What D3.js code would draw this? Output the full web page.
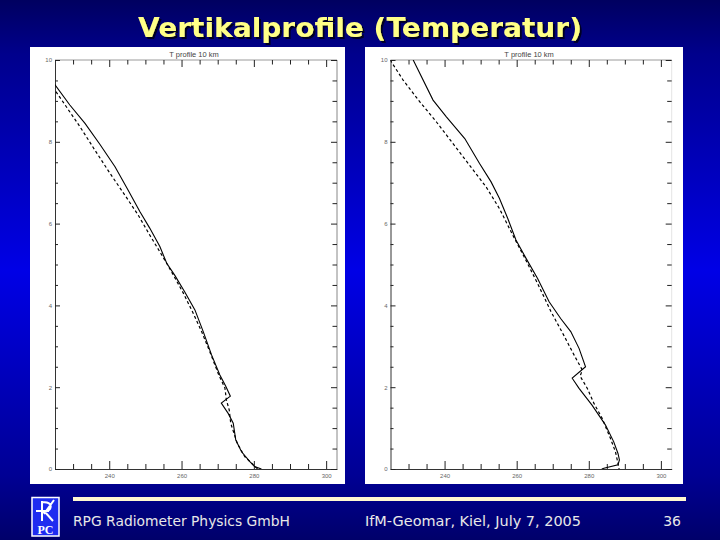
<!DOCTYPE html>
<html>
<head>
<meta charset="utf-8">
<script src="https://cdn.jsdelivr.net/npm/d3@7"></script>
<style>
  html, body { margin: 0; padding: 0; background: #000080; }
  svg { display: block; }
</style>
</head>
<body>
<div id="slide"></div>
<script>
// temperature [K] vs height [km]
const leftSolid = [[219.9,10],[225,9.39],[229.1,8.90],[233.3,8.45],[237.4,7.94],[241.6,7.39],[245.2,6.82],[248.5,6.29],[251.2,5.89],[254.0,5.44],[255.9,5.03],[258.1,4.74],[260.9,4.33],[263.7,3.89],[266.0,3.36],[268.3,2.79],[270.6,2.30],[272.2,2.03],[273.5,1.78],[271.0,1.61],[272.9,1.36],[274.3,1.12],[275.0,0.71],[276.6,0.42],[278.9,0.18],[280.2,0.06],[282.1,0]];
const leftDashed = [[219.2,10],[225.3,9.22],[227.8,8.90],[231.9,8.37],[236.0,7.80],[240.2,7.23],[244.3,6.70],[248.0,6.21],[251.2,5.72],[254.0,5.31],[255.9,5.03],[258.0,4.70],[260.5,4.30],[263.0,3.85],[265.6,3.35],[267.9,2.85],[270.3,2.30],[272.0,1.98],[272.4,1.69],[273.2,1.44],[273.6,1.12],[275.4,0.63],[277.5,0.30],[279.4,0.14],[280.8,0.02],[281.5,0]];
const rightSolid = [[231.3,10],[236.8,9.02],[240.5,8.61],[245.6,8.08],[249.7,7.47],[252.9,7.02],[255.2,6.62],[257.5,6.13],[259.8,5.60],[262.6,5.15],[265.8,4.66],[269.0,4.09],[272.2,3.68],[275.0,3.36],[277.3,2.95],[279.1,2.50],[275.4,2.22],[277.3,1.97],[280.9,1.56],[284.6,1.08],[286.9,0.67],[288.1,0.38],[288.5,0.22],[288.1,0.10],[284.2,0.02],[283.6,0]];
const rightDashed = [[224.9,10],[228.5,9.51],[233.1,8.98],[237.7,8.49],[242.3,7.96],[246.9,7.43],[251.5,6.90],[255.2,6.37],[258.9,5.72],[262.3,5.15],[266.0,4.50],[269.5,3.85],[273.0,3.28],[275.9,2.79],[278.2,2.42],[277.6,2.27],[279.6,1.97],[281.4,1.61],[283.7,1.24],[286.0,0.75],[287.4,0.42],[288.1,0.14],[288.4,0]];

const tempDomain = [225, 303];
const heightDomain = [0, 10];
const tempMajor = [240, 260, 280, 300];
const tempMinor = [230, 235, 245, 250, 255, 265, 270, 275, 285, 290, 295];
const heightMajor = [0, 2, 4, 6, 8, 10];
const heightMinor = [0.5, 1, 1.5, 2.5, 3, 3.5, 4.5, 5, 5.5, 6.5, 7, 7.5, 8.5, 9, 9.5];

const panelTitle = 'T profile 10 km';
const slideTitle = 'Vertikalprofile (Temperatur)';
const footerLeft = 'RPG Radiometer Physics GmbH';
const footerMid = 'IfM-Geomar, Kiel, July 7, 2005';
const pageNo = '36';

const W = 720, H = 540;

let svg = d3.select('#slide')
  .append('svg')
  .attr('width', W)
  .attr('height', H);

//background gradient
const defs = svg.append('defs');
const bg = defs.append('linearGradient')
  .attr('id', 'bg').attr('x1', 0).attr('y1', 0).attr('x2', 0).attr('y2', 1);
[['0%', '#000060'], ['10%', '#00008c'], ['50%', '#0000e6'], ['88%', '#000094'], ['100%', '#00006a']]
  .forEach(s => bg.append('stop').attr('offset', s[0]).attr('stop-color', s[1]));

//title shadow as a filter, so the title is one text
const shadow = defs.append('filter').attr('id', 'shadow')
  .attr('x', '-5%').attr('y', '-20%').attr('width', '110%').attr('height', '140%');
shadow.append('feDropShadow')
  .attr('dx', 2).attr('dy', 2).attr('stdDeviation', 0.4)
  .attr('flood-color', '#000022').attr('flood-opacity', 1);

svg.append('rect').attr('width', W).attr('height', H).attr('fill', 'url(#bg)');

svg.append('text')
  .attr('x', 360)
  .attr('y', 37)
  .attr('text-anchor', 'middle')
  .attr('font-family', 'DejaVu Sans, Verdana, sans-serif')
  .attr('font-weight', 'bold')
  .attr('font-size', '26px')
  .attr('textLength', 444)
  .attr('lengthAdjust', 'spacingAndGlyphs')
  .attr('fill', '#ffff88')
  .attr('filter', 'url(#shadow)')
  .text(slideTitle);

function drawPanel(box, plot, solid, dashed, id, rightLine) {
  let g = svg.append('g');

  g.append('rect')
    .attr('x', box.x).attr('y', box.y)
    .attr('width', box.w).attr('height', box.h)
    .attr('fill', '#ffffff');

  //scales
  let x = d3.scaleLinear().domain(tempDomain).range([plot.x0, plot.x1]);
  let y = d3.scaleLinear().domain(heightDomain).range([plot.y1, plot.y0]);

  //frame
  g.append('line').attr('x1', plot.x0).attr('x2', plot.x1).attr('y1', plot.y0).attr('y2', plot.y0)
    .attr('stroke', '#9a9a9a').attr('stroke-width', 1);
  g.append('line').attr('x1', plot.x1).attr('x2', plot.x1).attr('y1', plot.y0).attr('y2', plot.y1)
    .attr('stroke', rightLine).attr('stroke-width', 1);

  //x axis, bottom
  const xMajor = d3.axisBottom(x).tickValues(tempMajor).tickSizeInner(-8).tickSizeOuter(0).tickPadding(5)
    .tickFormat(d3.format('d'));
  const xMin = d3.axisBottom(x).tickValues(tempMinor).tickSizeInner(-5).tickSizeOuter(0).tickFormat('');
  g.append('g').attr('class', 'x axis').attr('transform', `translate(0, ${plot.y1})`).call(xMajor);
  g.append('g').attr('class', 'x axis minor').attr('transform', `translate(0, ${plot.y1})`).call(xMin);

  //x axis, top (ticks only)
  const xTop = d3.axisTop(x).tickValues(tempMajor).tickSizeInner(-7).tickSizeOuter(0).tickFormat('');
  const xTopMin = d3.axisTop(x).tickValues(tempMinor).tickSizeInner(-4.5).tickSizeOuter(0).tickFormat('');
  g.append('g').attr('class', 'x axis minor').attr('transform', `translate(0, ${plot.y0})`).call(xTop);
  g.append('g').attr('class', 'x axis minor').attr('transform', `translate(0, ${plot.y0})`).call(xTopMin);

  //y axis, left
  const yMajor = d3.axisLeft(y).tickValues(heightMajor).tickSizeInner(-5).tickSizeOuter(0).tickPadding(3)
    .tickFormat(d3.format('d'));
  const yMin = d3.axisLeft(y).tickValues(heightMinor).tickSizeInner(-3).tickSizeOuter(0).tickFormat('');
  g.append('g').attr('class', 'y axis').attr('transform', `translate(${plot.x0}, 0)`).call(yMajor);
  g.append('g').attr('class', 'y axis minor').attr('transform', `translate(${plot.x0}, 0)`).call(yMin);

  //y axis, right (ticks only)
  const yRight = d3.axisRight(y).tickValues(heightMajor).tickSizeInner(-6).tickSizeOuter(0).tickFormat('');
  const yRightMin = d3.axisRight(y).tickValues(heightMinor).tickSizeInner(-4.5).tickSizeOuter(0).tickFormat('');
  g.append('g').attr('class', 'y axis minor').attr('transform', `translate(${plot.x1}, 0)`).call(yRight);
  g.append('g').attr('class', 'y axis minor').attr('transform', `translate(${plot.x1}, 0)`).call(yRightMin);

  g.selectAll('.axis path.domain').attr('stroke', '#333').attr('stroke-width', 1);
  g.selectAll('.axis.minor path.domain').remove();
  g.selectAll('.axis line').attr('stroke', '#222').attr('stroke-width', 1);
  g.selectAll('.axis text')
    .attr('font-family', 'Liberation Sans, Arial, sans-serif')
    .attr('font-size', '6px')
    .attr('fill', '#666');

  //panel title
  g.append('text')
    .attr('x', (plot.x0 + plot.x1) / 2 - 2)
    .attr('y', 57)
    .attr('text-anchor', 'middle')
    .attr('font-family', 'Liberation Sans, Arial, sans-serif')
    .attr('font-size', '7.5px')
    .attr('fill', '#444')
    .text(panelTitle);

  //clip for the profiles
  defs.append('clipPath').attr('id', id)
    .append('rect')
    .attr('x', plot.x0).attr('y', plot.y0)
    .attr('width', plot.x1 - plot.x0).attr('height', plot.y1 - plot.y0);

  const line = d3.line().x(d => x(d[0])).y(d => y(d[1]));

  g.append('path')
    .datum(dashed)
    .attr('clip-path', `url(#${id})`)
    .attr('d', line)
    .attr('fill', 'none')
    .attr('stroke', '#000')
    .attr('stroke-width', 1.2)
    .attr('stroke-dasharray', '3,2.5');

  g.append('path')
    .datum(solid)
    .attr('clip-path', `url(#${id})`)
    .attr('d', line)
    .attr('fill', 'none')
    .attr('stroke', '#000')
    .attr('stroke-width', 1.1);
}

drawPanel({ x: 30, y: 47, w: 315, h: 437 }, { x0: 55, x1: 337, y0: 60, y1: 469 }, leftSolid, leftDashed, 'clipL', '#888');
drawPanel({ x: 365, y: 47, w: 318, h: 437 }, { x0: 390.5, x1: 671.7, y0: 60, y1: 469 }, rightSolid, rightDashed, 'clipR', '#e4e4e4');

//footer rule
svg.append('rect')
  .attr('x', 73).attr('y', 497)
  .attr('width', 613).attr('height', 4)
  .attr('fill', '#fff8d0');

//logo
let logo = svg.append('g');
logo.append('rect')
  .attr('x', 32).attr('y', 497.5).attr('width', 27).attr('height', 38.5)
  .attr('fill', '#1f2cf0').attr('stroke', '#ffffff').attr('stroke-width', 1.5);
logo.append('path')
  .attr('d', 'M42,501 L42,521 M42,502 C50,502 52,505 50,509 C48,512 44,512 42,512 M45,512 L53,521 M36,511 L49,511 M54,500 L44,514')
  .attr('fill', 'none').attr('stroke', '#ffffff').attr('stroke-width', 2);
logo.append('text')
  .attr('x', 45.5).attr('y', 533.5)
  .attr('text-anchor', 'middle')
  .attr('font-family', 'Liberation Serif, serif')
  .attr('font-weight', 'bold')
  .attr('font-size', '12px')
  .attr('fill', '#ffffff')
  .text('PC');

//footer text
const footFont = 'DejaVu Sans, Verdana, sans-serif';
svg.append('text').attr('x', 73).attr('y', 526)
  .attr('font-family', footFont).attr('font-size', '14px').attr('fill', '#e8e8e8')
  .attr('textLength', 217).attr('lengthAdjust', 'spacingAndGlyphs')
  .text(footerLeft);
svg.append('text').attr('x', 365).attr('y', 526)
  .attr('font-family', footFont).attr('font-size', '14px').attr('fill', '#e8e8e8')
  .attr('textLength', 216).attr('lengthAdjust', 'spacingAndGlyphs')
  .text(footerMid);
svg.append('text').attr('x', 681).attr('y', 526)
  .attr('text-anchor', 'end')
  .attr('font-family', footFont).attr('font-size', '14px').attr('fill', '#e8e8e8')
  .text(pageNo);
</script>
</body>
</html>
